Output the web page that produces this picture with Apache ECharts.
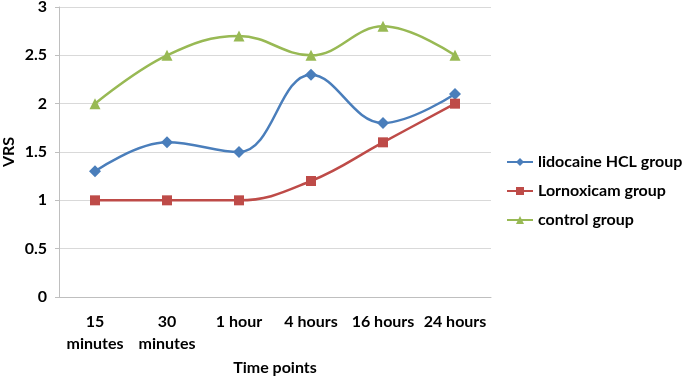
<!DOCTYPE html>
<html>
<head>
<meta charset="utf-8">
<script src="https://cdn.jsdelivr.net/npm/echarts@6/dist/echarts.min.js"></script>
<style>html,body{margin:0;padding:0;background:#fff}#main{width:685px;height:377px}</style>
</head>
<body>
<div id="main"></div>
<script>
var chartDom = document.getElementById('main');
var myChart = echarts.init(chartDom);
var option;

let timePoints = ['15\nminutes', '30\nminutes', '1 hour', '4 hours', '16 hours', '24 hours']
let lidocaine = [1.3, 1.6, 1.5, 2.3, 1.8, 2.1]
let lornoxicam = [1, 1, 1, 1.2, 1.6, 2]
let control = [2, 2.5, 2.7, 2.5, 2.8, 2.5]

let font = 'Lato'

option = {
  animation: false,
  grid: { left: 59, right: 194, top: 7, bottom: 80, outerBoundsMode: 'none', containLabel: false },
  legend: {
    orient: 'vertical',
    left: 506,
    top: 154,
    itemGap: 13,
    itemWidth: 26,
    itemHeight: 10,
    padding: 0,
    textStyle: { fontFamily: font, fontWeight: 'bold', fontSize: 16, color: '#000' },
    data: ['lidocaine HCL group', 'Lornoxicam group', 'control group']
  },
  xAxis: {
    type: 'category',
    data: timePoints,
    name: 'Time points',
    nameLocation: 'middle',
    nameGap: 62,
    nameTextStyle: { fontFamily: font, fontWeight: 'bold', fontSize: 16, color: '#000' },
    axisLine: { lineStyle: { color: '#bfbfbf' } },
    axisTick: { length: 5, lineStyle: { color: '#bfbfbf' } },
    axisLabel: { interval: 0, fontFamily: font, fontWeight: 'bold', fontSize: 16, color: '#000', margin: 14, lineHeight: 22 }
  },
  yAxis: {
    type: 'value',
    min: 0,
    max: 3,
    interval: 0.5,
    name: 'VRS',
    nameLocation: 'middle',
    nameGap: 42,
    nameMoveOverlap: false,
    nameTextStyle: { fontFamily: font, fontWeight: 'bold', fontSize: 16, color: '#000' },
    axisLine: { show: true, lineStyle: { color: '#bfbfbf' } },
    axisTick: { show: true, length: 4, lineStyle: { color: '#bfbfbf' } },
    axisLabel: { fontFamily: font, fontWeight: 'bold', fontSize: 16, color: '#000', margin: 12 },
    splitLine: { lineStyle: { color: '#d9d9d9' } }
  },
  series: [
    {
      name: 'lidocaine HCL group',
      type: 'line',
      data: lidocaine,
      smooth: 0.4,
      symbol: 'diamond',
      symbolSize: 12,
      lineStyle: { width: 2.5, color: '#4a7ebb' },
      itemStyle: { color: '#4a7ebb' }
    },
    {
      name: 'Lornoxicam group',
      type: 'line',
      data: lornoxicam,
      smooth: 0.4,
      symbol: 'rect',
      symbolSize: 10,
      lineStyle: { width: 2.5, color: '#be4b48' },
      itemStyle: { color: '#be4b48' }
    },
    {
      name: 'control group',
      type: 'line',
      data: control,
      smooth: 0.4,
      symbol: 'triangle',
      symbolSize: 11,
      lineStyle: { width: 2.5, color: '#98b954' },
      itemStyle: { color: '#98b954' }
    }
  ]
};

option && myChart.setOption(option);
</script>
</body>
</html>
